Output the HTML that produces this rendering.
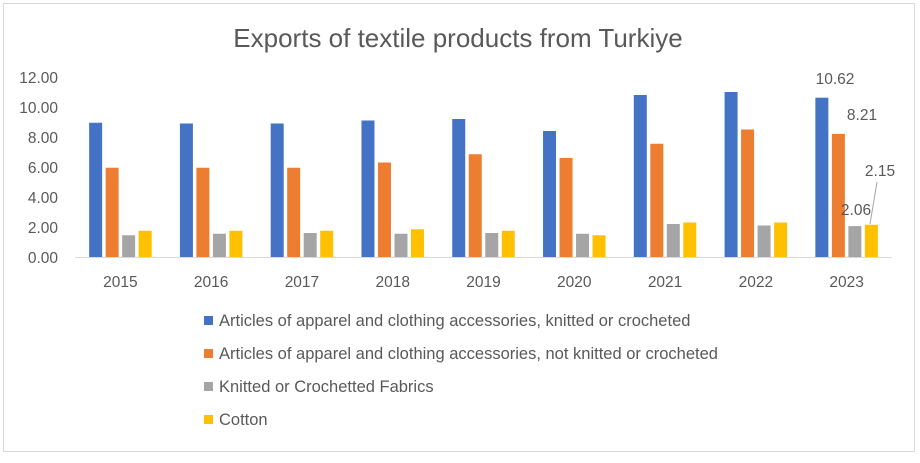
<!DOCTYPE html>
<html><head><meta charset="utf-8"><style>
body{margin:0;background:#fff;font-family:"Liberation Sans",sans-serif}
svg text{font-family:"Liberation Sans",sans-serif;fill:#595959}
</style></head><body>
<svg width="920" height="458">
<rect x="3.5" y="3.5" width="911" height="448" fill="#fff" stroke="#d9d9d9"/>
<text x="458" y="47" font-size="26" text-anchor="middle">Exports of textile products from Turkiye</text>
<g id="axes"></g><g id="bars"></g><g id="labels"></g><g id="legend"></g>
</svg>
<script>
const categories=["2015","2016","2017","2018","2019","2020","2021","2022","2023"];
const seriesNames=["Articles of apparel and clothing accessories, knitted or crocheted","Articles of apparel and clothing accessories, not knitted or crocheted","Knitted or Crochetted Fabrics","Cotton"];
const knitted=[8.95,8.9,8.9,9.1,9.2,8.4,10.8,11.0,10.62];
const notKnitted=[5.95,5.95,5.95,6.3,6.85,6.6,7.55,8.5,8.21];
const fabrics=[1.45,1.55,1.6,1.55,1.6,1.55,2.2,2.1,2.06];
const cotton=[1.75,1.75,1.75,1.85,1.75,1.45,2.3,2.3,2.15];
const yTicks=[0,2,4,6,8,10,12];
const colors=["#4472c4","#ed7d31","#a5a5a5","#ffc000"];
const NS="http://www.w3.org/2000/svg";
const x0=75,x1=892,y0=257,yTop=77,yMax=12;
const band=(x1-x0)/categories.length;
const y=v=>y0-(v/yMax)*(y0-yTop);
const xc=i=>x0+band*(i+0.5);
function mk(t,a,p){const e=document.createElementNS(NS,t);for(const k in a)e.setAttribute(k,a[k]);p.appendChild(e);return e;}
const axes=document.getElementById('axes');
yTicks.forEach(t=>{
 const e=mk('text',{x:58,y:y(t)+6,'font-size':15.5,'text-anchor':'end'},axes);
 
 
 e.textContent=t.toFixed(2);
});
const ax=mk('line',{x1:x0,x2:x1,y1:y0+0.5,y2:y0+0.5,stroke:'#d9d9d9'},axes);


categories.forEach((c,i)=>{
 const e=mk('text',{x:xc(i),y:287,'font-size':15.5,'text-anchor':'middle'},axes);
 
 
 e.textContent=c;
});
const bars=document.getElementById('bars');
const series=[knitted,notKnitted,fabrics,cotton];
const bw=13,step=16.5;
series.forEach((s,k)=>s.forEach((v,i)=>{
 const bx=xc(i)-2*step+k*step+(step-bw)/2;
 const r=mk('rect',{x:bx,y:y(v),width:bw,height:y0-y(v),fill:colors[k]},bars);
 
 
}));
const lab=document.getElementById('labels');
const last=categories.length-1;
function dl(txt,x,yy){const e=mk('text',{x:x,y:yy,'font-size':15.5,'text-anchor':'middle'},lab);
 
 
 e.textContent=txt;}
dl(knitted[last].toFixed(2),835,84);
dl(notKnitted[last].toFixed(2),862,120);
dl(fabrics[last].toFixed(2),856,215);
dl(cotton[last].toFixed(2),880,176);
const ll=mk('line',{x1:877,y1:182,x2:870,y2:224,stroke:'#a5a5a5'},lab);


const lg=document.getElementById('legend');
seriesNames.forEach((n,k)=>{
 const yy=321+k*33;
 const g=mk('g',{},lg);
 
 
 mk('rect',{x:204,y:yy-5,width:9,height:9,fill:colors[k]},g);
 const t=mk('text',{x:219,y:yy+5,'font-size':16.5},g);
 t.textContent=n;
});
</script>
</body></html>
